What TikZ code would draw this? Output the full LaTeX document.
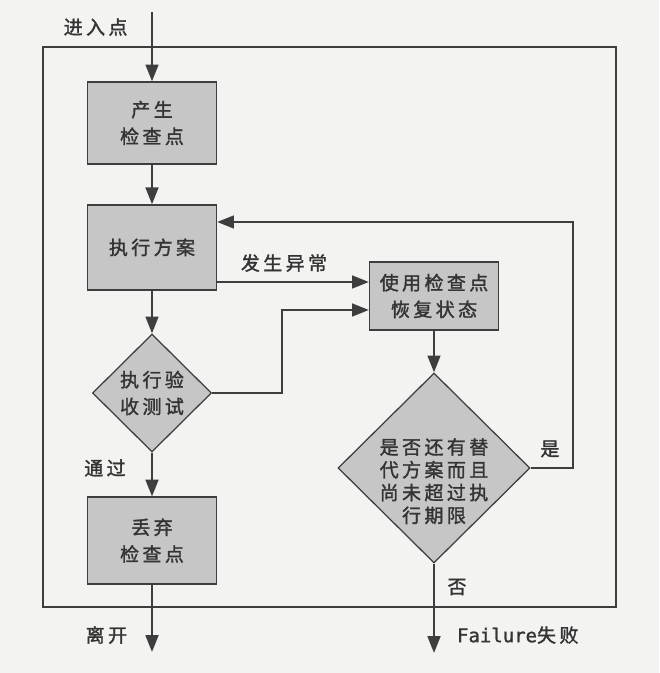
\documentclass[tikz,border=0pt]{standalone}
\usepackage{fontspec}
\setmainfont{Noto Sans CJK SC}[LetterSpace=18, FakeBold=1.6]
\newfontfamily\monofont{DejaVu Sans Mono}[FakeBold=1.2]
\usetikzlibrary{arrows.meta, shapes.geometric}
\definecolor{paper}{RGB}{243,243,241}
\definecolor{boxgray}{RGB}{198,198,198}
\definecolor{linegray}{RGB}{62,62,62}
\definecolor{textgray}{RGB}{52,52,52}

\begin{document}
\begin{tikzpicture}[
        box/.style={draw=linegray, line width=0.9pt, fill=boxgray, text=textgray,
            minimum width=3.225cm, align=center, font=\fontsize{13.5}{19}\selectfont},
        dia/.style={draw=linegray, line width=0.9pt, fill=boxgray, diamond, inner sep=0pt},
        arr/.style={draw=linegray, line width=1.6pt, -{Triangle[length=4.2mm,width=3.2mm]}},
        lbl/.style={text=textgray, font=\fontsize{13.5}{19}\selectfont},
    ]
        \useasboundingbox[fill=paper] (0,0) rectangle (16.475,16.825);
        \draw[linegray, line width=1.4pt] (1.075,1.65) rectangle (15.4,15.65);

        % boxes and tests
        \node[box, minimum height=2.05cm] (b1) at (3.8,13.75) {产生\\检查点};
        \node[box, minimum height=2.125cm] (b2) at (3.8,10.64) {执行方案};
        \node[box, minimum height=1.7cm] (b3) at (10.85,9.425) {使用检查点\\恢复状态};
        \node[box, minimum height=2.175cm] (b4) at (3.8,3.31) {丢弃\\检查点};
        \node[dia, minimum width=2.975cm, minimum height=2.95cm] (d1) at (3.8,7.0) {};
        \node[lbl, align=center] (d1txt) at (d1) {执行验\\收测试};
        \node[dia, minimum width=4.8cm, minimum height=4.75cm] (d2) at (10.85,5.125) {};
        \node[lbl, align=center, font=\fontsize{13.5}{16.2}\selectfont] (d2txt)
            at ([yshift=-3.3mm]d2.center) {是否还有替\\代方案而且\\尚未超过执\\行期限};

        \coordinate (entry) at (3.8,16.525);
        \coordinate (exit) at (3.8,0.525);
        \coordinate (fail) at (10.85,0.5);
        \coordinate (loopc) at (14.325,11.275);
        \coordinate (b3in1) at ([yshift=3.5mm]b3.west);
        \coordinate (b3in2) at ([yshift=-3.5mm]b3.west);

        \draw[arr]
            (entry) -- (b1);
        \draw[arr] (b1) -- (b2);
        \draw[arr] (b2) -- (d1);
        \draw[arr] (d1) -- (b4);
        \draw[arr] (b4) -- (exit);
        \draw[arr] (b3) -- (d2);
        \draw[arr] (d2) -- (fail);
        \draw[arr] (b2.east |- b3in1) -- (b3in1);
        \draw[arr] (d1.east) -- ++(1.75,0) |- (b3in2);
        \draw[arr] (d2.east) -| (loopc) -- (b2.east |- loopc);

        % labels
        \node[lbl] (lentry) at (2.39,16.15) {进入点};
        \node[lbl] (lexc) at (7.1,10.25) {发生异常};
        \node[lbl] (lpass) at (2.625,5.125) {通过};
        \node[lbl] (lyes) at (13.75,5.6) {是};
        \node[lbl] (lno) at (11.425,2.15) {否};
        \node[lbl] (lexit) at (2.66,0.95) {离开};
        \node[lbl, anchor=west, inner sep=0pt] (lfail) at (11.42,0.95)
            {{\monofont Failure}失败};
\end{tikzpicture}
\end{document}
